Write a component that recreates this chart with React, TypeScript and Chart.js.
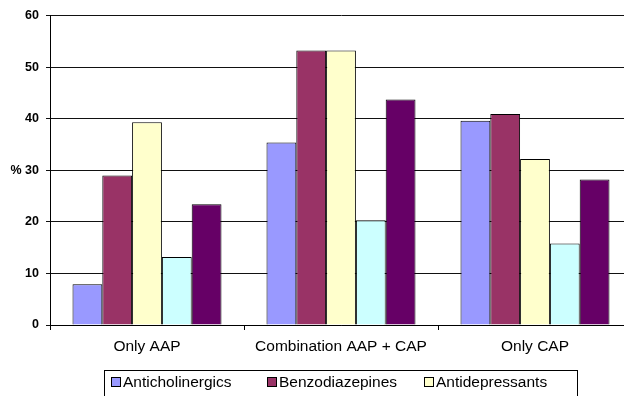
import React, { useEffect, useRef } from "react";
import { Chart, registerables } from "chart.js";

Chart.register(...registerables);

// Treatment groups on the x axis
const categories = ["Only AAP", "Combination AAP + CAP", "Only CAP"];

// Share of patients (%) receiving each co-medication class
const anticholinergics = [7.9, 35.4, 39.6];
const benzodiazepines = [29.0, 53.2, 40.9];
const antidepressants = [39.3, 53.2, 32.2];
const seriesFour = [13.2, 20.3, 15.8];
const seriesFive = [23.4, 43.7, 28.2];

const seriesLabels = ["Anticholinergics", "Benzodiazepines", "Antidepressants", "", ""];
const seriesColors = ["#9999FF", "#993366", "#FFFFCC", "#CCFFFF", "#660066"];

// Y axis ticks
const yMin = 0;
const yMax = 60;
const yStep = 10;
const yTitleTick = 30;

const FONT = "'Liberation Sans', Arial, Helvetica, sans-serif";

// Boxed legend below the plot, drawn with equal column widths
const boxedLegend = {
  id: "boxedLegend",
  afterDraw(chart: any) {
    const ctx = chart.ctx;
    ctx.save();
    ctx.strokeStyle = "#000";
    ctx.lineWidth = 1;
    ctx.strokeRect(104.5, 370.5, 473, 60);
    ctx.font = `15.5px ${FONT}`;
    ctx.textBaseline = "middle";
    ctx.textAlign = "left";
    let col = 0;
    chart.data.datasets.forEach((ds: any) => {
      if (!ds.label) return;
      const x = 111 + col * 156.3;
      const y = 377.5;
      ctx.fillStyle = ds.backgroundColor;
      ctx.fillRect(Math.round(x) + 0.5, y, 9, 9);
      ctx.strokeStyle = "#000";
      ctx.strokeRect(Math.round(x) + 0.5, y, 9, 9);
      ctx.fillStyle = "#000";
      ctx.fillText(ds.label, Math.round(x) + 12, 382.5);
      col++;
    });
    ctx.restore();
  },
};

export default function App() {
  const canvasRef = useRef<HTMLCanvasElement | null>(null);

  useEffect(() => {
    if (!canvasRef.current) return;
    const values = [anticholinergics, benzodiazepines, antidepressants, seriesFour, seriesFive];
    const chart = new Chart(canvasRef.current, {
      type: "bar",
      data: {
        labels: categories,
        datasets: values.map((data, i) => ({
          label: seriesLabels[i],
          data,
          backgroundColor: seriesColors[i],
          borderColor: "#000",
          borderWidth: 1,
          categoryPercentage: 0.768,
          barPercentage: 1,
        })),
      },
      options: {
        responsive: false,
        animation: false,
        devicePixelRatio: 1,
        layout: { padding: { top: 15.5, right: 8, left: 0, bottom: 0 } },
        plugins: {
          legend: { display: false },
          tooltip: { enabled: false },
        },
        scales: {
          x: {
            afterFit(scale: any) {
              scale.height = 95;
            },
            grid: {
              offset: true,
              drawOnChartArea: false,
              drawTicks: true,
              tickLength: 5,
              color: "#000",
            },
            border: { color: "#000", width: 1 },
            ticks: {
              color: "#000",
              font: { family: FONT, size: 15.5 },
              padding: 7,
              maxRotation: 0,
              autoSkip: false,
            },
          },
          y: {
            min: yMin,
            max: yMax,
            afterFit(scale: any) {
              scale.width = 50;
            },
            grid: {
              color: "#111",
              tickLength: 4,
              drawTicks: true,
            },
            border: { color: "#000", width: 1 },
            ticks: {
              stepSize: yStep,
              color: "#000",
              padding: 7,
              font: { family: FONT, size: 12.5, weight: "bold" },
              callback: (v: any) => (v === yTitleTick ? `% ${v}` : `${v}`),
            },
          },
        },
      },
      plugins: [boxedLegend],
    });
    return () => chart.destroy();
  }, []);

  return (
    <div
      style={{
        position: "fixed",
        left: 0,
        top: 0,
        width: 624,
        height: 396,
        overflow: "hidden",
        background: "#fff",
      }}
    >
      <canvas ref={canvasRef} width={640} height={420} style={{ width: 640, height: 420, display: "block" }} />
    </div>
  );
}
